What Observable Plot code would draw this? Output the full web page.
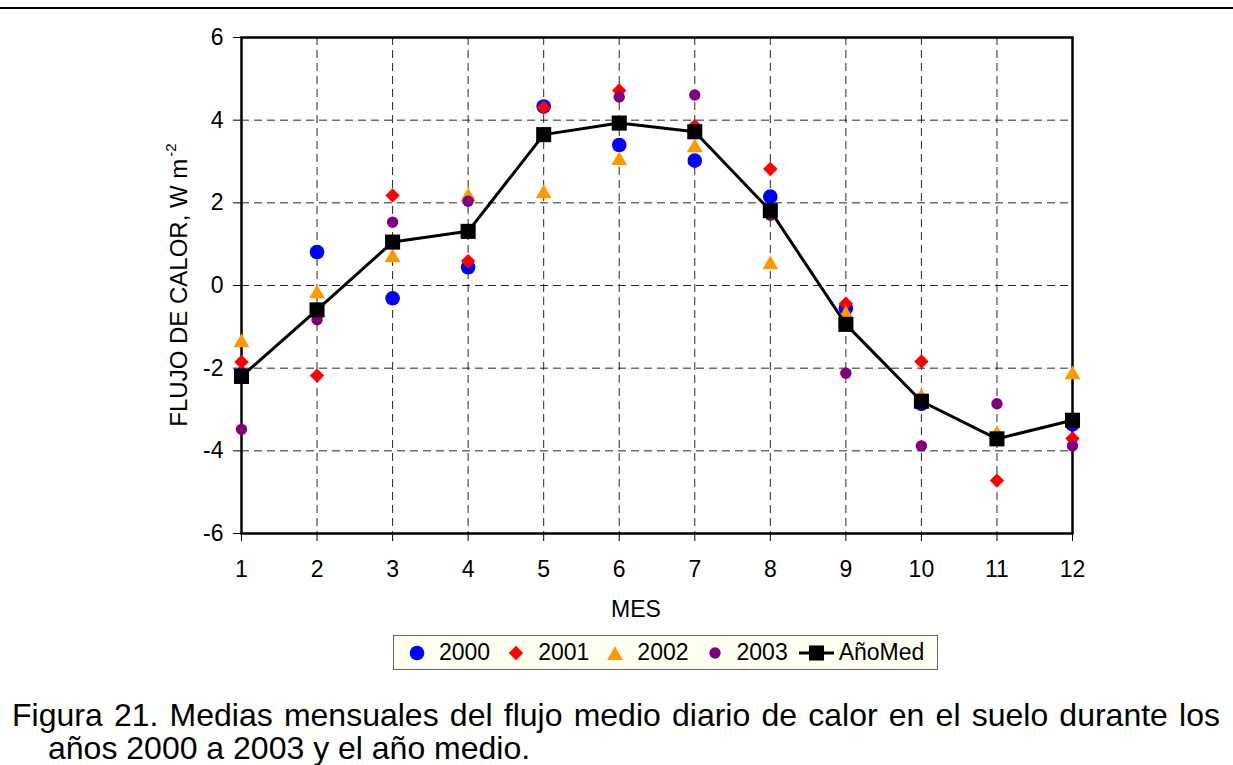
<!DOCTYPE html>
<html>
<head>
<meta charset="utf-8">
<script src="https://cdn.jsdelivr.net/npm/d3@7"></script>
<script src="https://cdn.jsdelivr.net/npm/@observablehq/plot@0.6"></script>
<style>
  body { margin: 0; background: #fff; font-family: "Liberation Sans", Arial, sans-serif; color: #000; }
  #page { position: relative; width: 1233px; height: 765px; overflow: hidden; }
  #rule { position: absolute; left: 0; top: 7px; width: 1233px; height: 2px; background: #000; }
  #chart { position: absolute; left: 0; top: 0; }
  #legend {
    position: absolute; left: 393px; top: 635px; width: 535px; height: 33px;
    border: 1px solid #666; background: #fffff2; box-sizing: content-box;
    display: flex; align-items: center; padding-left: 8px; font-size: 23px;
  }
  .item { display: flex; align-items: center; margin-right: 11px; }
  .item svg { display: block; }
  .item span { margin-left: 7px; line-height: 33px; }
  .cap { position: absolute; font-size: 32px; line-height: 32px; white-space: pre; }
  #cap1 { left: 12px; top: 699px; width: 1208px; text-align: justify; text-align-last: justify; white-space: normal; }
  #cap2 { left: 48px; top: 732px; }
</style>
</head>
<body>
<div id="page">
  <div id="rule"></div>
  <div id="chart"></div>
  <div id="legend"></div>
  <div class="cap" id="cap1">Figura 21. Medias mensuales del flujo medio diario de calor en el suelo durante los</div>
  <div class="cap" id="cap2">años 2000 a 2003 y el año medio.</div>
</div>
<script>
// Mes del año
const months = [1, 2, 3, 4, 5, 6, 7, 8, 9, 10, 11, 12];
const yTicks = [-6, -4, -2, 0, 2, 4, 6];

// Flujo medio diario de calor en el suelo (W m-2), media mensual por año
const v2000 = [-2.15, 0.81, -0.31, 0.44, 4.33, 3.40, 3.02, 2.15, -0.55, -2.86, -3.71, -3.36];
const v2001 = [-1.85, -2.18, 2.18, 0.59, 4.30, 4.72, 3.86, 2.82, -0.44, -1.84, -4.72, -3.70];
const v2002 = [-1.33, -0.14, 0.73, 2.20, 2.28, 3.08, 3.39, 0.56, -0.65, -2.65, -3.55, -2.10];
const v2003 = [-3.48, -0.83, 1.53, 2.04, 3.69, 4.56, 4.61, 1.70, -2.12, -3.88, -2.86, -3.88];
const vMedio = [-2.20, -0.59, 1.05, 1.31, 3.65, 3.93, 3.72, 1.81, -0.94, -2.80, -3.71, -3.26];

const seriesNames = ["2000", "2001", "2002", "2003", "AñoMed"];
const seriesColors = ["#0000ff", "#ff0000", "#ff9900", "#800080", "#000000"];

const rows = (vals, serie) => months.map((m, i) => ({mes: m, valor: vals[i], serie}));

const font = '"Liberation Sans", Arial, sans-serif';
const grid = {stroke: "#000", strokeOpacity: 0.85, strokeWidth: 1, strokeDasharray: "8,5"};

// Marker definitions shared by the chart and the legend
const markers = [
  {symbol: "circle", r: 7.3, dy: 0},
  {symbol: "diamond2", r: 6.5, dy: 0},
  {symbol: "triangle", r: 5.9, dy: 2.3},
  {symbol: "circle", r: 5.7, dy: 0},
  {symbol: "square", r: 8.5, dy: 0}
];
const yearValues = [v2000, v2001, v2002, v2003];

const chart = Plot.plot({
  width: 1233,
  height: 630,
  marginLeft: 241,
  marginRight: 161,
  marginTop: 37,
  marginBottom: 97,
  style: {fontFamily: font, fontSize: "23px", color: "#000", background: "transparent", overflow: "visible"},
  x: {domain: [1, 12]},
  y: {domain: [-6, 6]},
  marks: [
    Plot.gridX(months, grid),
    Plot.gridY(yTicks, grid),
    Plot.frame({stroke: "#000", strokeWidth: 2.5}),
    Plot.axisX(months, {tickSize: 8, tickPadding: 19, label: null, tickFormat: d => String(d), stroke: "#000"}),
    Plot.axisY(yTicks, {tickSize: 8, tickPadding: 10, label: null, tickFormat: d => String(d), stroke: "#000"}),
    ...yearValues.map((vals, k) => Plot.dot(rows(vals, seriesNames[k]), {
      x: "mes", y: "valor",
      symbol: markers[k].symbol, r: markers[k].r, dy: markers[k].dy,
      fill: seriesColors[k], stroke: "none"
    })),
    Plot.line(rows(vMedio, "AñoMed"), {x: "mes", y: "valor", stroke: "#000", strokeWidth: 3}),
    Plot.dot(rows(vMedio, "AñoMed"), {x: "mes", y: "valor", symbol: "square", r: markers[4].r, fill: "#000", stroke: "none"})
  ]
});
document.getElementById("chart").appendChild(chart);

// Axis titles
const svg = d3.select(chart);
const yTitle = svg.append("text")
  .attr("transform", "translate(187,285) rotate(-90)")
  .attr("text-anchor", "middle")
  .attr("font-family", font)
  .attr("font-size", 24)
  .attr("fill", "#000");
yTitle.append("tspan").text("FLUJO DE CALOR, W m");
yTitle.append("tspan").attr("font-size", 15).attr("dy", -11).attr("dx", 2).text("-2");

svg.append("text")
  .attr("x", 636).attr("y", 617)
  .attr("text-anchor", "middle")
  .attr("font-family", font)
  .attr("font-size", 23)
  .attr("fill", "#000")
  .text("MES");

// Legend
const legend = d3.select("#legend");
seriesNames.forEach((name, k) => {
  const item = legend.append("div").attr("class", "item");
  const isLine = k === 4;
  const w = isLine ? 35 : 30;
  const s = item.append("svg").attr("width", w).attr("height", 30);
  if (isLine) {
    s.append("line").attr("x1", 0).attr("x2", w).attr("y1", 15).attr("y2", 15)
      .attr("stroke", "#000").attr("stroke-width", 3);
  }
  const symType = {circle: d3.symbolCircle, diamond2: d3.symbolDiamond2, triangle: d3.symbolTriangle, square: d3.symbolSquare}[markers[k].symbol];
  s.append("path")
    .attr("transform", `translate(${w / 2},${15 + markers[k].dy})`)
    .attr("d", d3.symbol(symType, Math.PI * markers[k].r * markers[k].r)())
    .attr("fill", seriesColors[k]);
  item.append("span").text(name);
  if (isLine) item.style("margin-right", "0px").select("span").style("margin-left", "5px");
});
</script>
</body>
</html>
